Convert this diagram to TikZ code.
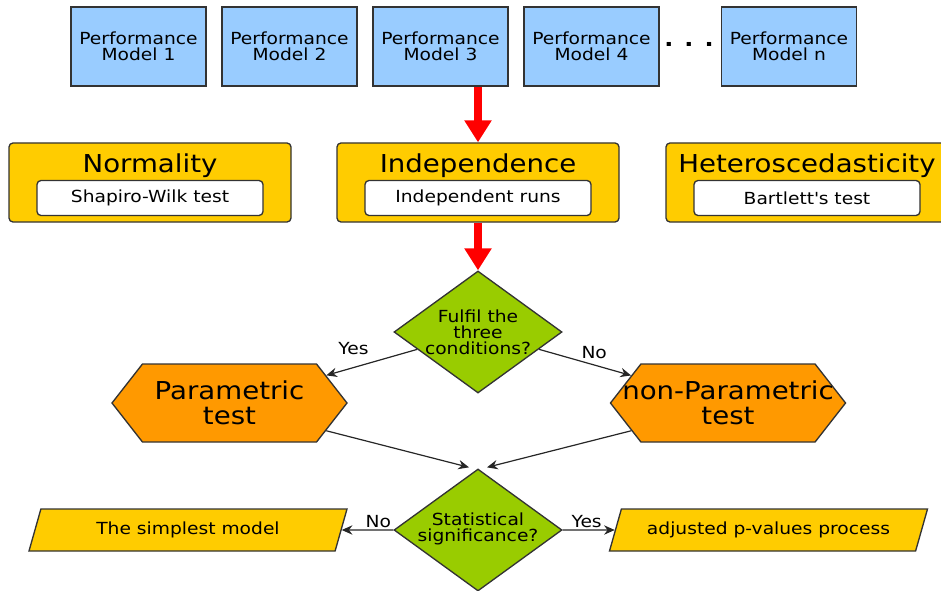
\documentclass[tikz,border=0pt]{standalone}
\usepackage{fontspec}
\setmainfont{DejaVu Sans}[FakeStretch=1.12]
\usetikzlibrary{shapes.geometric,shapes.symbols,arrows.meta,calc}
\definecolor{modelblue}{HTML}{99CCFF}
\definecolor{condyellow}{HTML}{FFCC00}
\definecolor{testorange}{HTML}{FF9900}
\definecolor{askgreen}{HTML}{99CC00}
\definecolor{edgegray}{HTML}{333333}
\tikzset{
  smalltext/.style={font=\fontsize{12.5}{12}\selectfont},
  model/.style={draw=edgegray, line width=1pt, fill=modelblue, minimum width=101.25pt, minimum height=59.25pt, align=center, inner sep=0pt, smalltext},
  condbox/.style={draw=edgegray, line width=1pt, fill=condyellow, rounded corners=3pt, minimum width=211.5pt, minimum height=59.25pt},
  condtitle/.style={font=\fontsize{18.5}{19}\selectfont, inner sep=0pt},
  testbox/.style={draw=edgegray, line width=1pt, fill=white, rounded corners=3pt, minimum width=169.5pt, minimum height=26.25pt, smalltext},
  decision/.style={diamond, draw=edgegray, line width=1pt, fill=askgreen, minimum width=126pt, minimum height=91.5pt, inner sep=0pt},
  asktext/.style={align=center, smalltext, inner sep=0pt},
  testhex/.style={signal, signal to=east and west, signal pointer angle=104, draw=edgegray, line width=1pt, fill=testorange, minimum width=176.25pt, minimum height=58.5pt, align=center, font=\fontsize{18.5}{19}\selectfont, inner xsep=-14pt, inner ysep=0pt},
  outcome/.style={trapezium, trapezium left angle=53.6, trapezium right angle=126.4, trapezium stretches body=true, draw=edgegray, line width=1pt, fill=condyellow, minimum width=238.5pt, minimum height=31.5pt, inner sep=0pt, smalltext},
  redarrow/.style={draw=red, line width=6pt, -{Triangle[width=19.5pt,length=16.5pt]}},
  flow/.style={draw=black!85, line width=0.9pt, -{Stealth[length=8pt,width=7pt]}},
  yesno/.style={smalltext, inner sep=1pt}
}
\begin{document}
\begin{tikzpicture}[x=0.75pt, y=0.75pt]
\useasboundingbox (0,0) rectangle (941,590);
% performance models
\node[model] (m1) at (138.5,543.5) {Performance\\Model 1};
\node[model] (m2) at (289.5,543.5) {Performance\\Model 2};
\node[model] (m3) at (440.5,543.5) {Performance\\Model 3};
\node[model] (m4) at (591.5,543.5) {Performance\\Model 4};
\node[font=\fontsize{16}{16}\bfseries\selectfont] (dots) at (689,546) {. . .};
\node[model] (mn) at (789,543.5) {Performance\\Model n};
% the three conditions
\node[condbox] (norm) at (150,407.5) {};
\node[condtitle] (normT) at (150,424.5) {Normality};
\node[testbox] (shapiro) at (150,392) {Shapiro-Wilk test};
\node[condbox] (indep) at (478,407.5) {};
\node[condtitle] (indepT) at (478,424.5) {Independence};
\node[testbox] (runs) at (478,392) {Independent runs};
\node[condbox] (hetero) at (807,407.5) {};
\node[condtitle] (heteroT) at (807,424.5) {Heteroscedasticity};
\node[testbox] (bartlett) at (807,392) {Bartlett\textquotesingle s test};
% decisions and tests
\node[decision] (q1) at (478,258) {};
\node[asktext] (q1T) at (478,258) {Fulfil the\\three\\conditions?};
\node[testhex] (param) at (229.5,187) {Parametric\\test};
\node[testhex] (nonparam) at (728,187) {non-Parametric\\test};
\node[decision] (q2) at (478,60) {};
\node[asktext] (q2T) at (478,61) {Statistical\\significance?};
\node[outcome] (simple) at (188,60) {The simplest model};
\node[outcome] (adjust) at (768.5,60) {adjusted p-values process};
\coordinate (q2in1) at ($(q2.north)+(-9,1)$);
\coordinate (q2in2) at ($(q2.north)+(9,1)$);
% connectors
\draw[redarrow] (indep.north |- m3.south) -- (indep.north);
\draw[redarrow] (indep.south) -- (q1.north);
\draw[flow] (q1) -- node[yesno, pos=.7, above=8pt] {Yes} (param);
\draw[flow] (q1) -- node[yesno, pos=.6, above=3pt] {No} (nonparam);
\draw[flow] (param.-16) -- (q2in1);
\draw[flow] (nonparam.196) -- (q2in2);
\draw[flow] (q2) -- node[yesno, pos=.29, above=.5pt] {No} (simple);
\draw[flow] (q2) -- node[yesno, pos=.46, above=.5pt] {Yes} (adjust);
\end{tikzpicture}
\end{document}
